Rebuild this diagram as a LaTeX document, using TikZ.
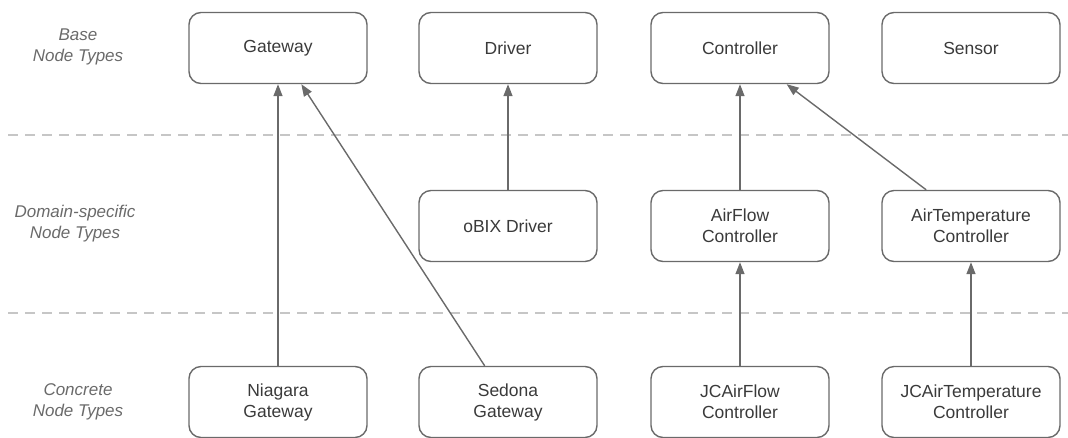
\documentclass[tikz,border=0pt]{standalone}
\usepackage{fontspec}
\setmainfont{Liberation Sans}
\usetikzlibrary{arrows.meta,calc}
\definecolor{edgegray}{HTML}{6A6A6A}
\definecolor{textgray}{HTML}{3A3A3A}
\definecolor{labelgray}{HTML}{6A6A6A}
\definecolor{dashgray}{HTML}{C6C6C6}
\tikzset{
  typebox/.style={draw=edgegray, line width=1.4pt, rounded corners=12pt,
    minimum width=178pt, minimum height=71pt, inner sep=0pt, align=center,
    text=textgray, font=\fontsize{17.5}{21}\selectfont},
  layerlabel/.style={align=center, text=labelgray, font=\fontsize{17}{21}\selectfont\itshape},
  layerline/.style={draw=dashgray, line width=1.8pt, dash pattern=on 10pt off 7pt},
  inherit/.style={draw=edgegray, line width=1.4pt, -{Triangle[length=12pt,width=9pt]}}
}
\begin{document}
\begin{tikzpicture}[x=1pt,y=-1pt]
\useasboundingbox (0,0) rectangle (1068,437);
% layer separators
\coordinate (sepAl) at (8,135);
\coordinate (sepAr) at (1068,135);
\coordinate (sepBl) at (8,313);
\coordinate (sepBr) at (1068,313);
\draw[layerline] (sepAl) -- (sepAr);
\draw[layerline] (sepBl) -- (sepBr);
% layer labels
\node[layerlabel] (lbase) at (78,47) {Base\\Node Types};
\node[layerlabel] (ldom) at (75,224) {Domain-specific\\Node Types};
\node[layerlabel] (lcon) at (78,402) {Concrete\\Node Types};
% base nodes
\node[typebox] (gateway) at (278,48) {Gateway};
\node[typebox] (driver) at (508,48) {Driver};
\node[typebox] (controller) at (740,48) {Controller};
\node[typebox] (sensor) at (971,48) {Sensor};
% domain nodes
\node[typebox] (obix) at (508,226) {oBIX Driver};
\node[typebox] (airflow) at (740,226) {AirFlow\\Controller};
\node[typebox] (airtemp) at (971,226) {AirTemperature\\Controller};
% concrete nodes
\node[typebox] (niagara) at (278,402) {Niagara\\Gateway};
\node[typebox] (sedona) at (508,402) {Sedona\\Gateway};
\node[typebox] (jcairflow) at (740,402) {JCAirFlow\\Controller};
\node[typebox] (jcairtemp) at (971,402) {JCAirTemperature\\Controller};
% inheritance arrows
\draw[inherit] (niagara.north) -- (gateway.south);
\draw[inherit] ($(sedona.north west)!0.37!(sedona.north east)$) -- ($(gateway.south west)!0.63!(gateway.south east)$);
\draw[inherit] (obix.north) -- (driver.south);
\draw[inherit] (airflow.north) -- (controller.south);
\draw[inherit] ($(airtemp.north west)!0.25!(airtemp.north east)$) -- ($(controller.south west)!0.76!(controller.south east)$);
\draw[inherit] (jcairflow.north) -- (airflow.south);
\draw[inherit] (jcairtemp.north) -- (airtemp.south);
\end{tikzpicture}
\end{document}
